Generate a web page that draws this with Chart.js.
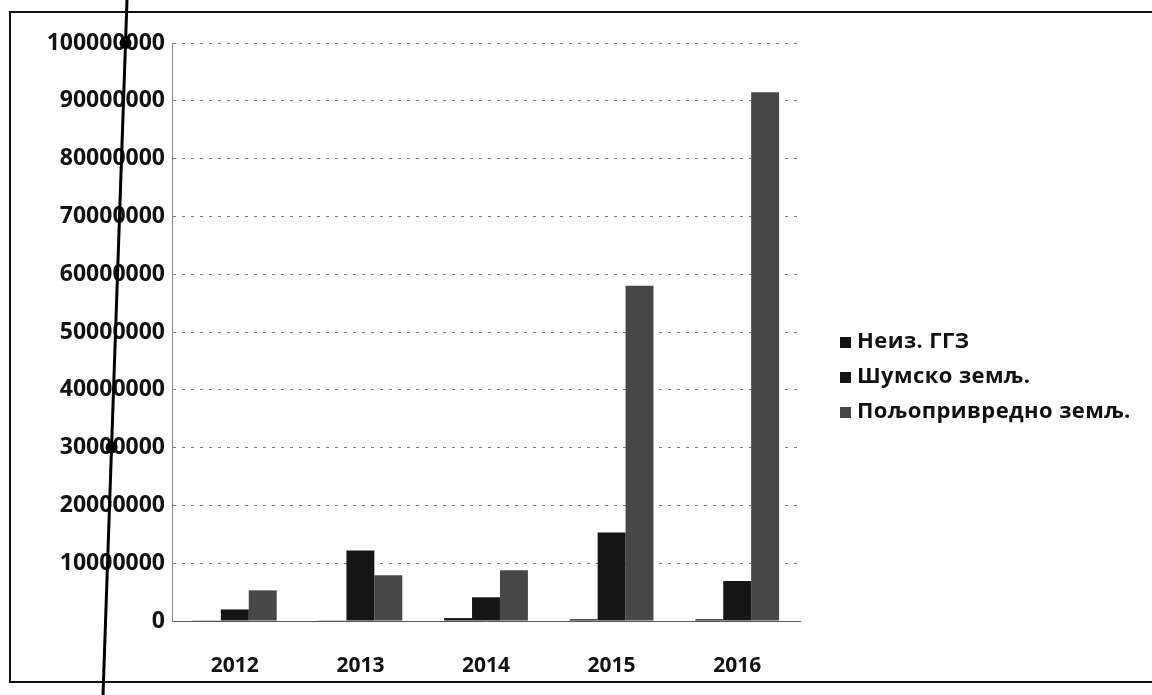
<!DOCTYPE html>
<html>
<head>
<meta charset="utf-8">
<script src="https://cdn.jsdelivr.net/npm/chart.js@4/dist/chart.umd.min.js"></script>
<style>
  html, body { margin: 0; padding: 0; background: #fff; }
  #wrap { position: relative; width: 1152px; height: 695px; overflow: hidden; }
  #chart { position: absolute; left: 0; top: 0; }
  #frame { position: absolute; left: 9px; top: 11px; width: 1200px; height: 668px;
           border: 2px solid #111; pointer-events: none; }
  #legend { position: absolute; left: 840px; top: 322px; font-family: "Open Sans", sans-serif;
            font-weight: 700; font-size: 22px; letter-spacing: 0.4px; color: #111; }
  #legend div { height: 35px; line-height: 35px; white-space: nowrap; }
  #legend span { display: inline-block; width: 11px; height: 11px; margin-right: 6px; vertical-align: middle; }
</style>
</head>
<body>
<div id="wrap">
  <canvas id="chart" width="1152" height="695"></canvas>
  <div id="frame"></div>
  <div id="legend"></div>
</div>
<script>
var years = ['2012', '2013', '2014', '2015', '2016'];
var seriesNames = ['Неиз. ГГЗ', 'Шумско земљ.', 'Пољопривредно земљ.'];
var neizGgz = [50000, 50000, 500000, 300000, 300000];
var sumsko = [2000000, 12200000, 4100000, 15300000, 6900000];
var poljo = [5300000, 7900000, 8800000, 58000000, 91500000];
var yTicks = [0, 10000000, 20000000, 30000000, 40000000, 50000000, 60000000, 70000000, 80000000, 90000000, 100000000];

var colors = ['#111111', '#151515', '#474747'];

// scan artifact: the pen line over the axis labels
var penLine = {
    id: 'penLine',
    afterDraw: function(chart) {
        var ctx = chart.ctx;
        var y = chart.scales.y;
        ctx.save();
        ctx.strokeStyle = '#000';
        ctx.lineWidth = 3;
        ctx.beginPath();
        ctx.moveTo(127, 0);
        ctx.lineTo(103, 695);
        ctx.stroke();
        ctx.fillStyle = '#000';
        [100000000, 30000000].forEach(function(v) {
            var py = y.getPixelForValue(v);
            var px = 127 - 24 * py / 695;
            ctx.beginPath();
            ctx.arc(px, py, 6, 0, Math.PI * 2);
            ctx.fill();
        });
        ctx.restore();
    }
};

var chart = new Chart(document.getElementById('chart'), {
    type: 'bar',
    data: {
        labels: years,
        datasets: [
            { label: seriesNames[0], data: neizGgz, backgroundColor: colors[0] },
            { label: seriesNames[1], data: sumsko, backgroundColor: colors[1] },
            { label: seriesNames[2], data: poljo, backgroundColor: colors[2] }
        ]
    },
    options: {
        responsive: false,
        animation: false,
        layout: { padding: { left: 0, right: 352, top: 43, bottom: 0 } },
        datasets: { bar: { categoryPercentage: 0.667, barPercentage: 1.0 } },
        plugins: { legend: { display: false }, tooltip: { enabled: false } },
        scales: {
            x: {
                grid: { display: false },
                border: { display: true, color: '#555', dash: [4, 3] },
                ticks: { color: '#111', padding: 24, font: { family: 'Open Sans', weight: 'bold', size: 21 } },
                afterFit: function(s) { s.height = 74; }
            },
            y: {
                min: 0,
                max: 100000000,
                afterBuildTicks: function(s) { s.ticks = yTicks.map(function(v) { return { value: v }; }); },
                grid: { color: '#777', lineWidth: 1, drawTicks: false },
                border: { display: true, color: '#888', dash: [3, 6] },
                ticks: { color: '#111', padding: 7, font: { family: 'Open Sans', weight: 'bold', size: 23 },
                         callback: function(v) { return String(v); } },
                afterFit: function(s) { s.width = 172; }
            }
        }
    },
    plugins: [penLine]
});

var legend = document.getElementById('legend');
chart.data.datasets.forEach(function(ds) {
    var row = document.createElement('div');
    var box = document.createElement('span');
    box.style.background = ds.backgroundColor;
    row.appendChild(box);
    row.appendChild(document.createTextNode(ds.label));
    legend.appendChild(row);
});
</script>
</body>
</html>
